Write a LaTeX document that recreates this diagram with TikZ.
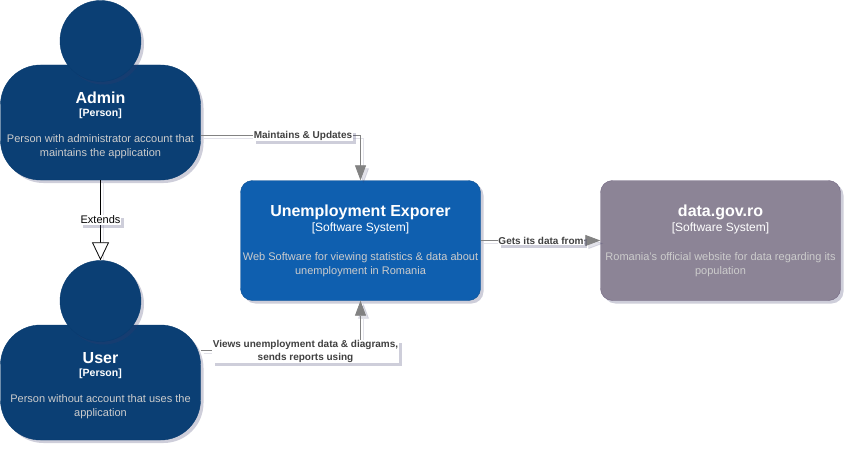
\documentclass[tikz,border=0pt]{standalone}
\usepackage{fontspec}
\setmainfont{Liberation Sans}
\usetikzlibrary{arrows.meta,shadows,calc}
\definecolor{persfill}{HTML}{0B3F74}
\definecolor{persline}{HTML}{073B6F}
\definecolor{sysfill}{HTML}{0F5FAF}
\definecolor{sysline}{HTML}{0D5091}
\definecolor{extfill}{HTML}{8C8496}
\definecolor{extline}{HTML}{736782}
\definecolor{desc}{HTML}{CCCCCC}
\definecolor{conn}{HTML}{828282}
\definecolor{labtext}{HTML}{404040}
\definecolor{shade}{HTML}{3A3A6A}
\tikzset{
  softshadow/.style={drop shadow={shadow xshift=3pt,shadow yshift=-3pt,opacity=.25,fill=shade}},
  body/.style={draw=persline,fill=persfill,rounded corners=40pt,minimum width=200pt,minimum height=115pt,inner sep=0pt,softshadow},
  head/.style={circle,draw=persline,fill=persfill,minimum size=81pt,inner sep=0pt,softshadow},
  sysbox/.style={draw=sysline,fill=sysfill,rounded corners=12pt,minimum width=240pt,minimum height=120pt,inner sep=0pt,softshadow},
  extbox/.style={draw=extline,fill=extfill,rounded corners=12pt,minimum width=240pt,minimum height=120pt,inner sep=0pt,softshadow},
  title/.style={text=white,font=\fontsize{16}{18}\selectfont\bfseries,inner sep=0pt},
  kind/.style={text=white,inner sep=0pt},
  persk/.style={kind,font=\fontsize{10.5}{12}\selectfont\bfseries},
  sysk/.style={kind,font=\fontsize{12}{14}\selectfont},
  descr/.style={text=desc,align=center,inner sep=0pt,font=\fontsize{11}{13.5}\selectfont},
  rel/.style={fill=white,text=labtext,inner sep=.8pt,align=center,font=\fontsize{10}{12.5}\selectfont\bfseries,softshadow},
  flow/.style={draw=conn,line width=.8pt,-{Triangle[length=15pt,width=11pt,fill=conn]}},
  flowshadow/.style={draw=shade,opacity=.15,line width=.8pt,-{Triangle[length=15pt,width=11pt,fill=shade]},transform canvas={xshift=3pt,yshift=-3pt}},
  extend/.style={draw=black,line width=.8pt,-{Triangle[open,length=18pt,width=17pt,fill=white]}},
  extendshadow/.style={draw=shade,opacity=.15,line width=.8pt,transform canvas={xshift=3pt,yshift=-3pt}}
}
\begin{document}
\begin{tikzpicture}[x=1pt,y=-1pt]
\useasboundingbox (0,0) rectangle (852,452);
% shapes
\node[body] (adminbody) at (100.5,122.5) {};
\node[head] (adminhead) at (100.5,41) {};
\node[body] (userbody) at (100.5,382.5) {};
\node[head] (userhead) at (100.5,301) {};
\node[sysbox] (explorer) at (360.5,240.5) {};
\node[extbox] (datagov) at (720.5,240.5) {};
% free points where connectors leave the persons
\coordinate (adminout) at (adminbody.east |- 0,135.5);
\coordinate (userout) at (userbody.east |- 0,350.5);
% connector shadows
\draw[flowshadow] (adminout) -| (explorer.north);
\draw[flowshadow] (userout) -| (explorer.south);
\draw[flowshadow] (explorer.east) -- (datagov.west);
\draw[extendshadow] (adminbody.south) -- (userhead.north);
% connectors
\draw[flow] (adminout) -| (explorer.north);
\draw[flow] (userout) -| (explorer.south);
\draw[flow] (explorer.east) -- (datagov.west);
\draw[extend] (adminbody.south) -- (userhead.north);
% connector labels
\node[rel] (lmaintain) at (303,135.5) {Maintains \& Updates};
\node[rel] (lviews) at (305.5,351.5) {Views unemployment data \& diagrams,\\sends reports using};
\node[rel] (lgets) at (541,240.5) {Gets its data from};
\node[rel,text=black,font=\fontsize{11}{12}\selectfont] (lextends) at (100.5,220) {Extends};
% texts
\node[title] (t1) at (100.5,98) {Admin};
\node[persk] (k1) at (100.5,114) {[Person]};
\node[descr] (d1) at (100.5,146.5) {Person with administrator account that\\maintains the application};
\node[title] (t2) at (100.5,358) {User};
\node[persk] (k2) at (100.5,374) {[Person]};
\node[descr] (d2) at (100.5,406.5) {Person without account that uses the\\application};
\node[title] (t3) at (360.5,212) {Unemployment Exporer};
\node[sysk] (k3) at (360.5,228.5) {[Software System]};
\node[descr,font=\fontsize{11}{14}\selectfont] (d3) at (360.5,265) {Web Software for viewing statistics \& data about\\unemployment in Romania};
\node[title] (t4) at (720.5,212) {data.gov.ro};
\node[sysk] (k4) at (720.5,228.5) {[Software System]};
\node[descr,font=\fontsize{11}{14}\selectfont] (d4) at (720.5,265) {Romania's official website for data regarding its\\population};
\end{tikzpicture}
\end{document}
